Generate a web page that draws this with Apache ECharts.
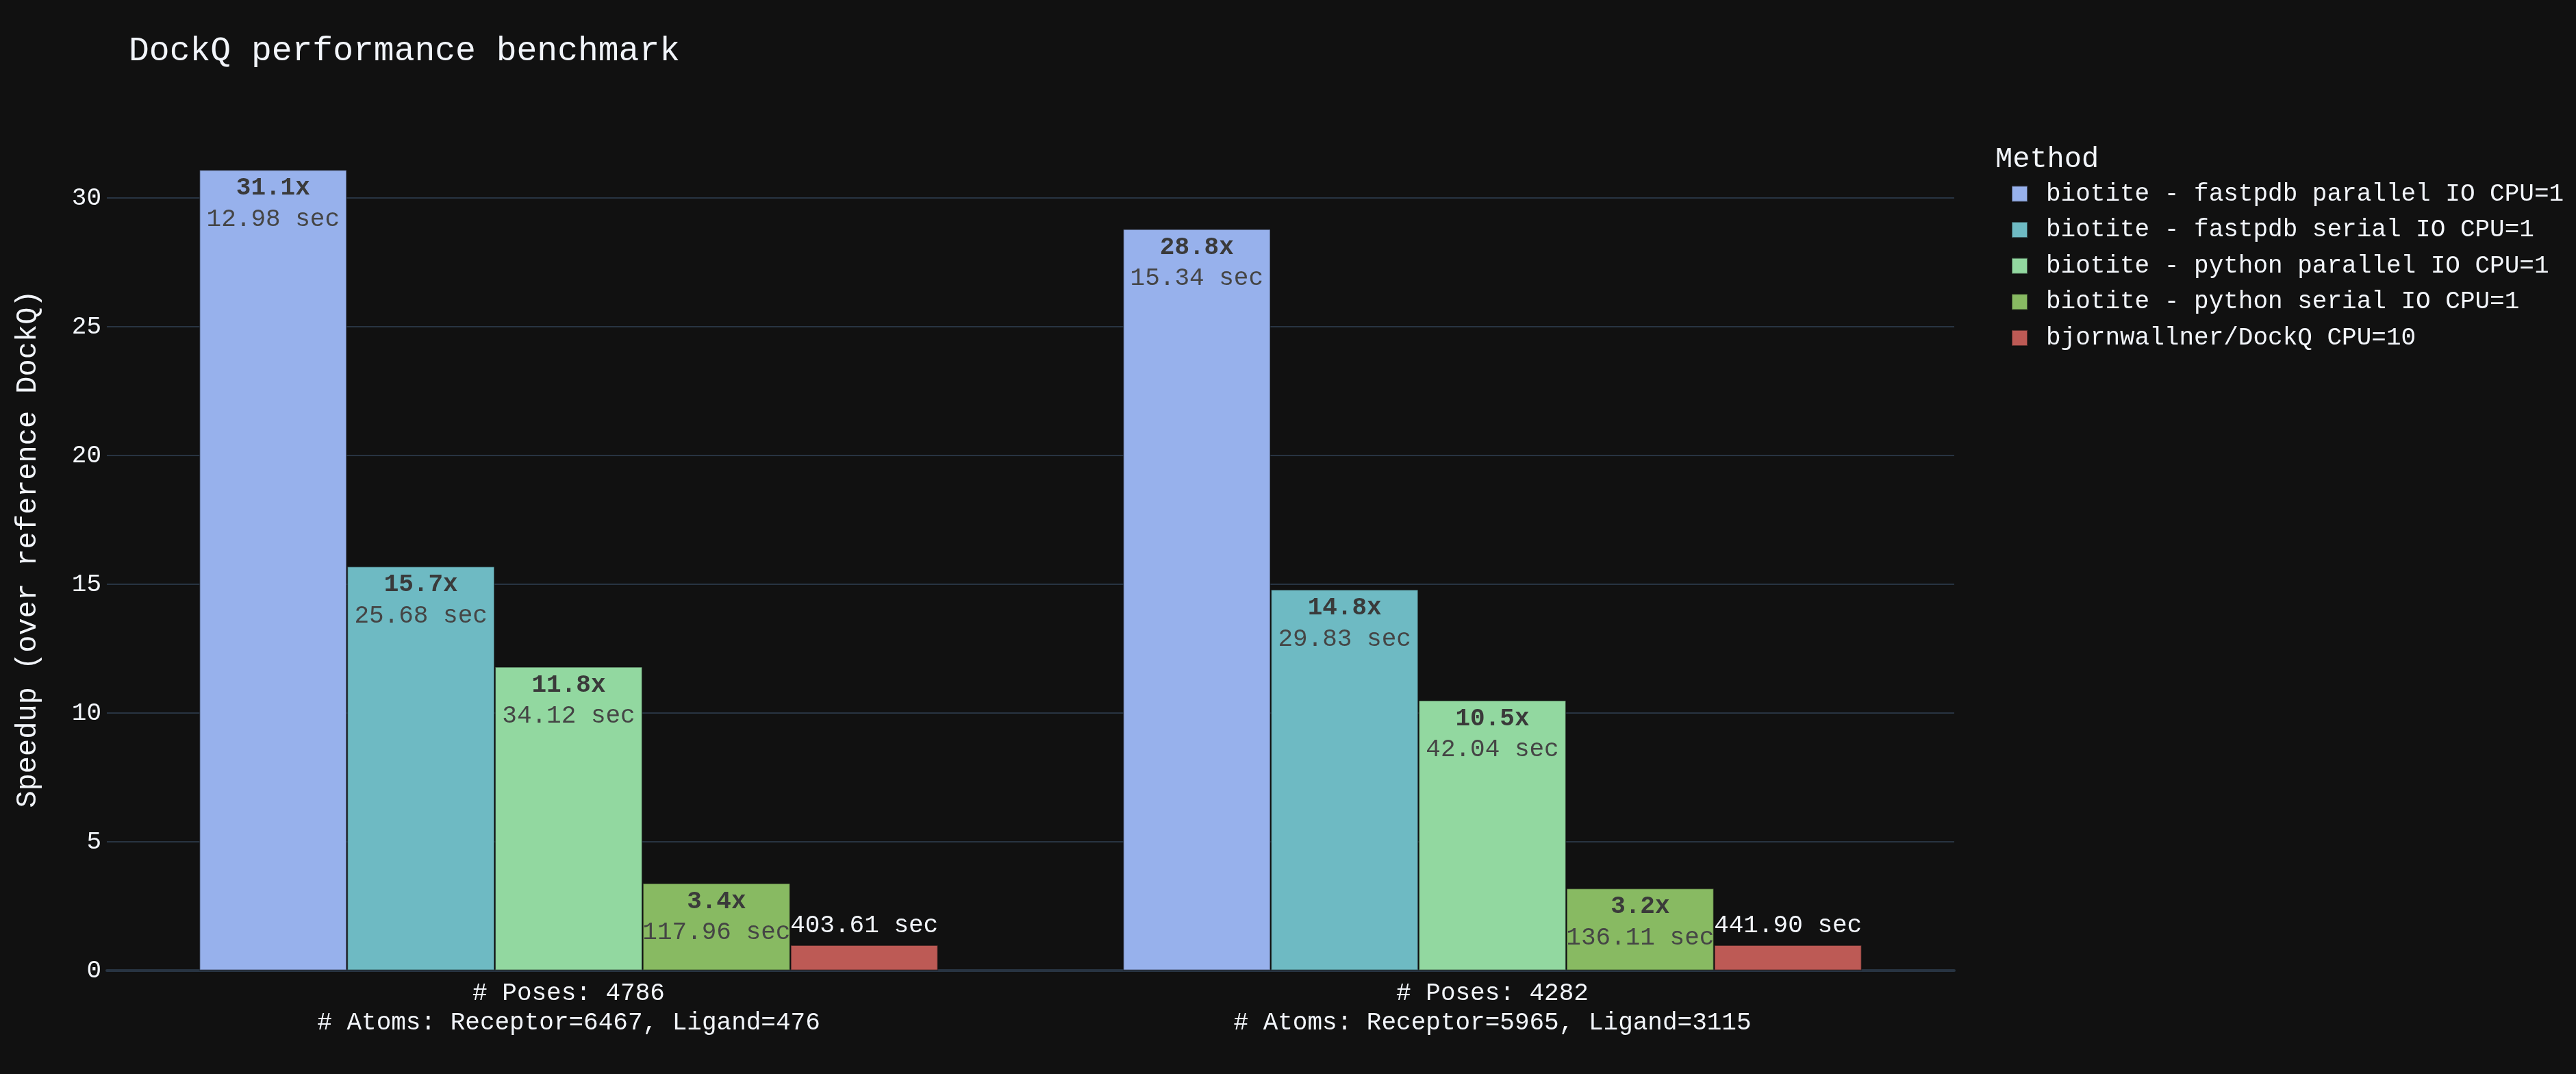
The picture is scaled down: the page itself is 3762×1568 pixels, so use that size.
<!DOCTYPE html>
<html>
<head>
<meta charset="utf-8">
<script src="https://cdn.jsdelivr.net/npm/echarts@6/dist/echarts.min.js"></script>
<style>
  html, body { margin: 0; padding: 0; background: #111111; }
  #chart { width: 3762px; height: 1568px; }
</style>
</head>
<body>
<div id="chart"></div>
<script>
// ---- Data ----
const poses = ['4786', '4282'];
const atoms = ['Receptor=6467, Ligand=476', 'Receptor=5965, Ligand=3115'];
const methods = [
  'biotite - fastpdb parallel IO CPU=1',
  'biotite - fastpdb serial IO CPU=1',
  'biotite - python parallel IO CPU=1',
  'biotite - python serial IO CPU=1',
  'bjornwallner/DockQ CPU=10'
];
const colors = ['#97b1ec', '#6ebac3', '#92d8a0', '#88ba62', '#bd5a55'];

const speedupFastpdbParallel = [31.1, 28.8];
const speedupFastpdbSerial   = [15.7, 14.8];
const speedupPythonParallel  = [11.8, 10.5];
const speedupPythonSerial    = [3.4, 3.2];
const speedupDockQ           = [1.0, 1.0];

const secondsFastpdbParallel = [12.98, 15.34];
const secondsFastpdbSerial   = [25.68, 29.83];
const secondsPythonParallel  = [34.12, 42.04];
const secondsPythonSerial    = [117.96, 136.11];
const secondsDockQ           = [403.61, 441.90];

const speedups = [speedupFastpdbParallel, speedupFastpdbSerial, speedupPythonParallel, speedupPythonSerial, speedupDockQ];
const seconds  = [secondsFastpdbParallel, secondsFastpdbSerial, secondsPythonParallel, secondsPythonSerial, secondsDockQ];

const categories = poses.map((p, i) => '# Poses: ' + p + '\n# Atoms: ' + atoms[i]);

// ---- Chart ----
const FONT = "'Liberation Mono', 'Courier New', monospace";
const TEXT = '#f2f5fa';
const chart = echarts.init(document.getElementById('chart'));

const series = methods.map((name, si) => {
  const isRef = si === methods.length - 1;
  return {
    name: name,
    type: 'bar',
    data: speedups[si],
    barGap: '0%',
    barCategoryGap: '20%',
    itemStyle: { color: colors[si], borderColor: 'rgba(17,17,17,0.55)', borderWidth: 1.5 },
    label: isRef ? {
      show: true,
      position: 'top',
      distance: 5,
      fontFamily: FONT,
      fontSize: 36,
      lineHeight: 45,
      color: TEXT,
      formatter: (p) => seconds[si][p.dataIndex].toFixed(2) + ' sec'
    } : {
      show: true,
      position: 'insideTop',
      distance: 5,
      formatter: (p) => '{b|' + speedups[si][p.dataIndex].toFixed(1) + 'x}\n{n|' + seconds[si][p.dataIndex].toFixed(2) + ' sec}',
      rich: {
        b: { fontFamily: FONT, fontSize: 36, fontWeight: 'bold', color: '#3a3a3a', lineHeight: 45 },
        n: { fontFamily: FONT, fontSize: 36, color: '#454545', lineHeight: 45 }
      }
    }
  };
});

chart.setOption({
  backgroundColor: '#111111',
  animation: false,
  textStyle: { fontFamily: FONT },
  title: [
    { text: 'DockQ performance benchmark', left: 183, top: 45,
      textStyle: { fontFamily: FONT, fontSize: 49.7, fontWeight: 'normal', color: TEXT } },
    { text: 'Method', left: 2909, top: 207,
      textStyle: { fontFamily: FONT, fontSize: 42, fontWeight: 'normal', color: TEXT } }
  ],
  legend: {
    orient: 'vertical',
    left: 2932,
    top: 260,
    icon: 'rect',
    itemWidth: 23,
    itemHeight: 23,
    itemGap: 16.6,
    textStyle: { fontFamily: FONT, fontSize: 36, color: TEXT, lineHeight: 36, padding: [0, 0, 0, 22] },
    data: methods
  },
  grid: { left: 156, right: 908, top: 186, bottom: 151, containLabel: false },
  xAxis: {
    type: 'category',
    data: categories,
    axisTick: { show: false },
    axisLine: { show: true, lineStyle: { color: '#283442', width: 4 } },
    axisLabel: { fontFamily: FONT, fontSize: 36, color: TEXT, lineHeight: 43, margin: 12 }
  },
  yAxis: {
    type: 'value',
    min: 0,
    max: 32.74,
    interval: 5,
    name: 'Speedup (over reference DockQ)',
    nameLocation: 'middle',
    nameGap: 94,
    nameTextStyle: { fontFamily: FONT, fontSize: 42, color: TEXT },
    axisLine: { show: false },
    axisTick: { show: false },
    axisLabel: { fontFamily: FONT, fontSize: 36, color: TEXT, margin: 8, showMaxLabel: false },
    splitLine: { show: true, showMaxLine: false, lineStyle: { color: '#283442', width: 2 } }
  },
  series: series
});
</script>
</body>
</html>
